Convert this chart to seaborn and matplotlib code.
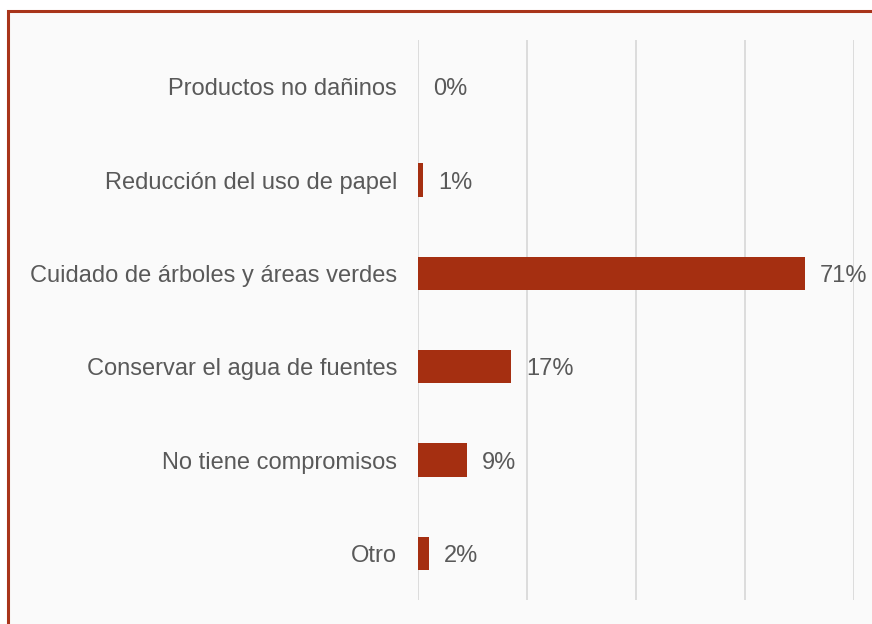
import matplotlib
matplotlib.use("Agg")
import matplotlib.pyplot as plt
import matplotlib.patches as mpatches
import seaborn as sns
import pandas as pd

categories = [
    "Productos no dañinos",
    "Reducción del uso de papel",
    "Cuidado de árboles y áreas verdes",
    "Conservar el agua de fuentes",
    "No tiene compromisos",
    "Otro",
]
values = [0, 1, 71, 17, 9, 2]
x_ticks = [0, 20, 40, 60, 80]

BAR_COLOR = "#A52F11"
TEXT_COLOR = "#595959"
GRID_COLOR = "#D9D9D9"
FONT_SIZE = 17

sns.set_theme(style="white")
plt.rcParams["font.family"] = ["Liberation Sans", "DejaVu Sans"]

df = pd.DataFrame({"cat": categories, "val": values})

W, H = 872, 624
fig = plt.figure(figsize=(W / 100, H / 100), dpi=100, facecolor="white")

# framed panel: border on top and left, running off the right and bottom edges
panel = mpatches.Rectangle((7.5 / W, -0.1), 1.2, 1 - 10.5 / H + 0.1,
                           transform=fig.transFigure, facecolor="#FAFAFA",
                           edgecolor="#A8341A", linewidth=2.2, zorder=-10)
fig.patches.append(panel)

ax = fig.add_axes([418 / W, 1 - 600 / H, (854 - 418) / W, (600 - 40) / H])
ax.set_facecolor("none")

sns.barplot(data=df, y="cat", x="val", orient="h", color=BAR_COLOR,
            saturation=1, width=0.36, linewidth=0, ax=ax, zorder=3)

ax.set_xlim(0, 80)
ax.set_ylim(5.5, -0.5)
ax.set_xticks(x_ticks)
ax.set_xticklabels([])
ax.tick_params(axis="x", length=0)
ax.tick_params(axis="y", length=0, pad=15, labelsize=FONT_SIZE, labelcolor=TEXT_COLOR)
for lbl in ax.get_yticklabels():
    lbl.set_va("center_baseline")
ax.grid(axis="x", color=GRID_COLOR, linewidth=1.3, zorder=0)
ax.set_axisbelow(True)
ax.set_xlabel("")
ax.set_ylabel("")
for s in ax.spines.values():
    s.set_visible(False)

for i, v in enumerate(values):
    ax.annotate(f"{v}%", xy=(v, i), xytext=(11, 0), textcoords="offset points",
                va="center_baseline", ha="left", fontsize=FONT_SIZE, color=TEXT_COLOR,
                annotation_clip=False)

fig.savefig("out.png", dpi=100, facecolor=fig.get_facecolor())
